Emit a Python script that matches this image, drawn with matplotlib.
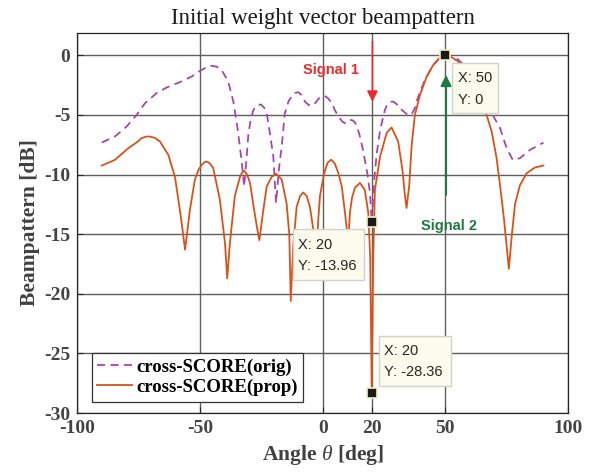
import matplotlib
matplotlib.use('Agg')
import matplotlib.pyplot as plt
from matplotlib.patches import Rectangle

plt.rcParams['font.family'] = ['Liberation Serif', 'DejaVu Serif']
plt.rcParams['mathtext.fontset'] = 'custom'
plt.rcParams['mathtext.rm'] = 'Liberation Serif'
plt.rcParams['mathtext.it'] = 'Liberation Serif:italic'
plt.rcParams['axes.unicode_minus'] = False

# cross-SCORE (orig)
ang_orig = [-90, -84.7, -79.9, -75.8, -72.4, -67.7, -63.6, -58.2, -53.4, -50.0, -47.5, -45.3,
            -43.2, -41.2, -38.5, -36.4, -34.7, -33.0, -32.0, -31.0, -30.3, -29.5, -28.3, -26.8,
            -25.2, -23.8, -22.8, -21.5, -20.1, -19.0, -17.8, -16.7, -15.4, -13.8, -12.6, -11.2,
            -9.9, -8.5, -7.2, -5.8, -4.5, -3.0, -1.8, -0.5, 0.8, 2.2, 3.7, 5.0, 6.4, 8.0, 9.1,
            10.2, 11.1, 12.2, 13.2, 14.2, 15.2, 16.2, 17.2, 18.3, 19.3, 20.0, 21.0, 22.0, 23.4,
            24.4, 25.4, 26.4, 27.5, 28.8, 30.2, 31.3, 32.2, 33.8, 35.3, 36.5, 37.6, 38.6, 39.7,
            41.0, 42.4, 44.0, 45.8, 47.8, 50.0, 52.2, 54.6, 56.0, 58.0, 62.0, 65.5, 68.9, 72.3,
            75.0, 77.5, 80.4, 84.5, 90.0]
bp_orig = [-7.31, -6.81, -5.97, -4.99, -4.01, -3.17, -2.70, -2.25, -1.78, -1.30, -1.02, -0.88,
           -0.95, -1.22, -2.2, -3.88, -6.1, -8.9, -11.0, -8.6, -6.67, -5.6, -4.6, -4.2,
           -4.12, -4.4, -4.85, -6.53, -8.49, -12.4, -9.5, -7.65, -4.85, -3.8, -3.46, -3.15,
           -3.09, -3.35, -3.88, -4.15, -4.24, -4.0, -3.67, -3.45, -3.40, -3.6, -4.01, -4.6, -5.13,
           -5.55, -5.69, -5.55, -5.41, -5.45, -5.64, -6.1, -6.81, -7.7, -8.77, -10.0, -11.56,
           -13.96, -10.5, -8.3, -6.3, -5.4, -4.57, -4.1, -3.9, -3.88, -4.1, -4.35, -4.57, -4.85,
           -5.05, -4.85, -4.43, -3.7, -3.04, -2.4, -1.78, -1.2, -0.65, -0.2, 0.0, -0.08, -0.23,
           -0.5, -0.9, -2.2, -3.6, -4.85, -6.1, -7.79, -8.77, -8.63, -7.93, -7.32]

# cross-SCORE (prop)
ang_prop = [-90, -84.7, -79.2, -75.8, -73.8, -72.0, -70.4, -68.3, -66.3, -62.9, -60.2, -58.2,
            -57.0, -56.1, -55.0, -54.1, -52.1, -50.6, -49.3, -48.2, -47.3, -46.0, -44.6, -41.9,
            -39.8, -38.9, -37.8, -35.8, -33.7, -32.8, -32.0, -30.9, -29.6, -27.9, -26.7, -25.8,
            -24.2, -22.8, -20.8, -19.0, -16.7, -14.7, -13.6, -13.0, -12.0, -10.6, -9.2, -7.9,
            -6.5, -5.2, -3.8, -2.5, -1.8, -1.1, 0.5, 2.0, 3.5, 5.0, 6.4, 7.8, 9.1, 9.8, 10.4,
            11.1, 12.0, 13.2, 15.2, 17.2, 18.6, 19.4, 20.0, 20.6, 21.3, 23.4, 26.1, 28.1, 30.8,
            32.6, 33.5, 34.2, 35.3, 36.3, 37.6, 39.7, 42.4, 45.1, 47.8, 50.0, 52.5, 55.3, 58.0,
            61.0, 64.0, 66.6, 68.9, 70.9, 72.3, 73.9, 75.9, 77.0, 78.4, 80.4, 83.2, 86.5, 90.0]
bp_prop = [-9.24, -8.77, -7.79, -7.3, -6.95, -6.82, -6.81, -6.93, -7.23, -8.35, -10.2, -12.96,
           -14.8, -16.3, -14.5, -12.96, -10.44, -9.6, -9.19, -8.97, -8.91, -9.05, -9.46, -12.1,
           -15.75, -18.7, -15.75, -11.8, -10.2, -9.82, -9.69, -9.95, -10.7, -13.0, -14.5, -15.5,
           -13.0, -11.0, -10.2, -9.94, -10.4, -12.4, -15.0, -20.6, -16.0, -12.7, -11.8, -11.5,
           -11.8, -12.7, -14.6, -17.0, -13.8, -11.8, -10.0, -9.0, -8.75, -9.1, -9.88, -11.0,
           -13.2, -14.5, -15.8, -13.2, -11.9, -11.1, -10.7, -11.3, -13.2, -17.0, -28.36, -17.0,
           -11.3, -8.5, -6.5, -6.05, -7.23, -9.75, -11.7, -12.8, -10.9, -7.5, -5.0, -3.3, -1.78,
           -0.8, -0.18, 0.0, -0.15, -0.52, -1.2, -2.2, -3.4, -4.85, -6.39, -8.63, -10.9, -13.7,
           -17.9, -15.3, -12.5, -10.9, -9.88, -9.41, -9.24]

# data tips
tip_x = [50, 20, 20]
tip_y = [0, -13.96, -28.36]

fig = plt.figure(figsize=(5.97, 4.73), dpi=100)
ax = fig.add_axes([0.1295, 0.1268, 0.8219, 0.8041])

ax.plot(ang_orig, bp_orig, color='#a646ad', lw=1.3, dashes=(4.5, 3),
        label='cross-SCORE(orig)', zorder=3)
ax.plot(ang_prop, bp_prop, color='#d95319', lw=1.3, label='cross-SCORE(prop)', zorder=3)

ax.set_xlim(-100, 100)
ax.set_ylim(-30, 1.9)
ax.set_xticks([-100, -50, 0, 20, 50, 100])
ax.set_yticks([-30, -25, -20, -15, -10, -5, 0])
ax.grid(True, color='#5e5e5e', lw=1.0)
ax.set_axisbelow(True)
ax.tick_params(direction='in', length=4, colors='#262626', labelcolor='#444444',
               labelsize=14, pad=5)
for lb in ax.get_xticklabels() + ax.get_yticklabels():
    lb.set_fontweight('bold')
for s in ax.spines.values():
    s.set_color('#262626')
    s.set_linewidth(0.9)

ax.set_title('Initial weight vector beampattern', fontsize=16.5, color='#1a1a1a', pad=6)
ax.set_xlabel(r'Angle $\theta$ [deg]', fontsize=15.5, fontweight='bold', color='#404040',
              labelpad=4)
ax.set_ylabel('Beampattern [dB]', fontsize=15.5, fontweight='bold', color='#404040',
              labelpad=3)

# signal arrows
ax.annotate('', xy=(20.3, -3.9), xytext=(20.3, 1.16),
            arrowprops=dict(arrowstyle='-|>', color='#ee2a2a', lw=1.2, mutation_scale=16,
                            shrinkA=0, shrinkB=0), zorder=5)
ax.annotate('', xy=(50.3, -1.64), xytext=(50.3, -11.7),
            arrowprops=dict(arrowstyle='-|>', color='#1e7a3e', lw=1.5, mutation_scale=16,
                            shrinkA=0, shrinkB=0), zorder=5)
ax.text(3.2, -1.27, 'Signal 1', color='#ee2a2a', fontsize=10.5, fontweight='bold',
        family='Liberation Sans', ha='center', va='center', zorder=6)
ax.text(51.4, -14.3, 'Signal 2', color='#1e7a3e', fontsize=10.5, fontweight='bold',
        family='Liberation Sans', ha='center', va='center', zorder=6)

# data tip boxes
boxes = [(52.9, -4.85, 18.6, 4.2, 55.0, -1.91, -3.73, 'X: 50', 'Y: 0'),
         (-12.1, -18.83, 29.0, 4.25, -10.2, -15.9, -17.7, 'X: 20', 'Y: -13.96'),
         (23.1, -27.73, 29.1, 4.23, 25.0, -24.8, -26.6, 'X: 20', 'Y: -28.36')]
for bx, by, bw, bh, tx, ty1, ty2, s1, s2 in boxes:
    ax.add_patch(Rectangle((bx, by), bw, bh, facecolor='#fbfbee', edgecolor='#d2d2c8',
                           lw=1.0, zorder=7))
    ax.text(tx, ty1, s1, fontsize=10.5, family='Liberation Sans', color='#262626',
            va='center', ha='left', zorder=8)
    ax.text(tx, ty2, s2, fontsize=10.5, family='Liberation Sans', color='#262626',
            va='center', ha='left', zorder=8)

ax.plot(tip_x, tip_y, ls='none', marker='s', ms=7, mfc='#1a1a1a', mec='#f2eec4', mew=1.2,
        zorder=9)

leg = ax.legend(loc='lower left', bbox_to_anchor=(0.022, 0.02),
                prop={'weight': 'bold', 'size': 13.5}, frameon=True, fancybox=False,
                edgecolor='#333333', framealpha=1, borderpad=0.3, labelspacing=0.15,
                handlelength=1.85, handletextpad=0.2, borderaxespad=0.2)
leg.get_frame().set_linewidth(0.9)
leg.set_zorder(10)

fig.savefig('out.png', dpi=100)
